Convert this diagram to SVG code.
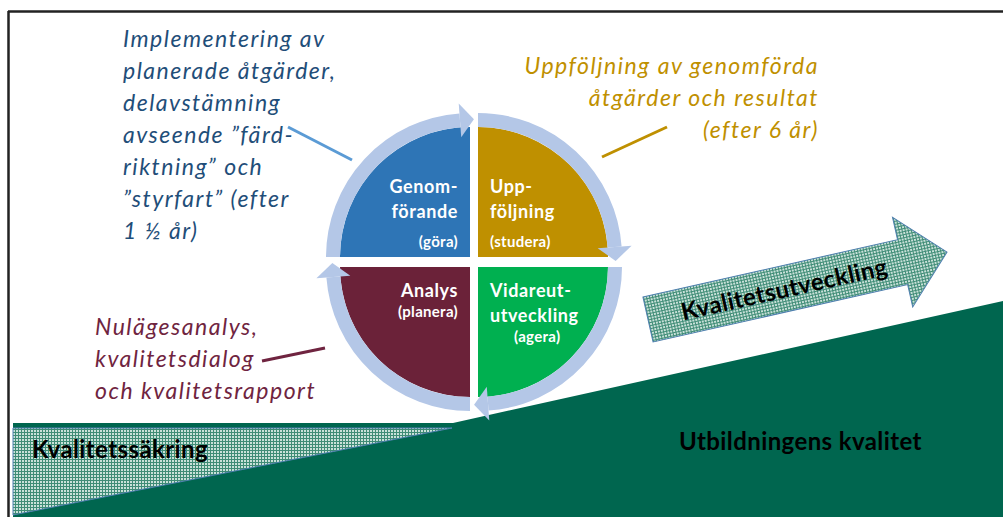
<svg xmlns="http://www.w3.org/2000/svg" width="1003" height="517" viewBox="0 0 1003 517">
<defs>
<pattern id="hatch" width="3" height="3" patternUnits="userSpaceOnUse">
<rect width="3" height="3" fill="#C9E1D9"/>
<rect width="3" height="1" fill="#3F8C76"/>
<rect width="1" height="3" fill="#3F8C76"/>
</pattern>
<style>
.ring{fill:none;stroke:#B4C7E7;stroke-width:14}
.head{fill:#B4C7E7}
.q{font-family:Lato,"Liberation Sans",sans-serif;font-weight:bold;fill:#FFFFFF;font-size:18px;letter-spacing:0.6px}
.qs{font-family:Lato,"Liberation Sans",sans-serif;font-weight:bold;fill:#FFFFFF;font-size:15px;letter-spacing:0.3px}
.note{font-family:Lato,"Liberation Sans",sans-serif;font-style:italic;font-size:23px;letter-spacing:1.5px}
.big{font-family:Lato,"Liberation Sans",sans-serif;font-weight:bold;fill:#000000;font-size:24px;letter-spacing:0.4px}
</style>
</defs>
<rect width="1003" height="517" fill="#FFFFFF"/>
<!-- frame -->
<g id="frame" stroke="#222222" stroke-width="2.5" fill="none">
<line x1="8" y1="11.5" x2="1003" y2="11.5"/>
<line x1="8.5" y1="11" x2="8.5" y2="517"/>
</g>
<!-- ground -->
<g id="utbildningens-kvalitet">
<polygon points="13,423 453,423 1003,301 1003,517 13,517" fill="#00664F"/>
<text class="big" x="679" y="450" font-size="25">Utbildningens kvalitet</text>
</g>
<g id="kvalitetssakring">
<polygon points="13,428 452,428 13,515" fill="url(#hatch)" stroke="#4F7FAF" stroke-width="1"/>
<text class="big" x="32" y="458">Kvalitetssäkring</text>
</g>
<g id="kvalitetsutveckling" transform="translate(648,319.5) rotate(-12.7)">
<polygon points="0,-23 261,-23 261,-46 306.5,0 261,46 261,23 0,23" fill="url(#hatch)" stroke="#4F7FAF" stroke-width="1"/>
</g>
<text class="big" transform="translate(786,297.5) rotate(-12.6)" text-anchor="middle" x="0" y="0" font-size="23">Kvalitetsutveckling</text>
<!-- cycle -->
<g id="genomforande">
<path d="M470,257 L340,257 A130,130 0 0 1 470,127 Z" fill="#2E75B6"/>
<path class="ring" d="M333,257 A137,137 0 0 1 459.97,120.37"/>
<polygon class="head" points="461.22,137.32 458.73,103.42 473.93,119.35"/>
<text class="q" x="458" y="193" text-anchor="end">Genom-</text>
<text class="q" x="458" y="218" text-anchor="end">förande</text>
<text class="qs" x="458" y="247" text-anchor="end">(göra)</text>
</g>
<g id="uppfoljning">
<path d="M478,257 L478,127 A130,130 0 0 1 608,257 Z" fill="#BF9000"/>
<path class="ring" d="M478,120 A137,137 0 0 1 614.63,246.97"/>
<polygon class="head" points="597.68,248.22 631.58,245.73 615.65,260.93"/>
<text class="q" x="490" y="193">Upp-</text>
<text class="q" x="490" y="218">följning</text>
<text class="qs" x="490" y="247">(studera)</text>
</g>
<g id="vidareutveckling">
<path d="M478,267 L608,267 A130,130 0 0 1 478,397 Z" fill="#00B050"/>
<path class="ring" d="M615,267 A137,137 0 0 1 488.03,403.63"/>
<polygon class="head" points="486.78,386.68 489.27,420.58 474.07,404.65"/>
<text class="q" x="490" y="297">Vidareut-</text>
<text class="q" x="490" y="322">utveckling</text>
<text class="qs" x="514" y="342">(agera)</text>
</g>
<g id="analys">
<path d="M470,267 L470,397 A130,130 0 0 1 340,267 Z" fill="#6B2239"/>
<path class="ring" d="M470,404 A137,137 0 0 1 333.37,277.03"/>
<polygon class="head" points="350.32,275.78 316.42,278.27 332.35,263.07"/>
<text class="q" x="458" y="297" text-anchor="end">Analys</text>
<text class="qs" x="458" y="317" text-anchor="end">(planera)</text>
</g>
<!-- annotations -->
<g id="note-genomforande" class="note" fill="#1F4E79">
<text x="123" y="47">Implementering av</text>
<text x="123" y="79">planerade åtgärder,</text>
<text x="123" y="111">delavstämning</text>
<text x="123" y="143">avseende ”färd-</text>
<text x="123" y="175">riktning” och</text>
<text x="123" y="207">”styrfart” (efter</text>
<text x="123" y="239">1 ½ år)</text>
</g>
<g id="note-uppfoljning" class="note" fill="#BF9000" text-anchor="end">
<text x="819" y="74">Uppföljning av genomförda</text>
<text x="819" y="106">åtgärder och resultat</text>
<text x="819" y="138">(efter 6 år)</text>
</g>
<g id="note-analys" class="note" fill="#6F2440">
<text x="95" y="335">Nulägesanalys,</text>
<text x="95" y="367">kvalitetsdialog</text>
<text x="95" y="399">och kvalitetsrapport</text>
</g>
<g id="connectors" stroke-width="3" stroke-linecap="butt">
<line x1="288" y1="127" x2="352" y2="160" stroke="#5B9BD5"/>
<line x1="602" y1="157" x2="667" y2="127" stroke="#BF9000"/>
<line x1="262" y1="361" x2="325" y2="348" stroke="#6F2440"/>
</g>
</svg>
